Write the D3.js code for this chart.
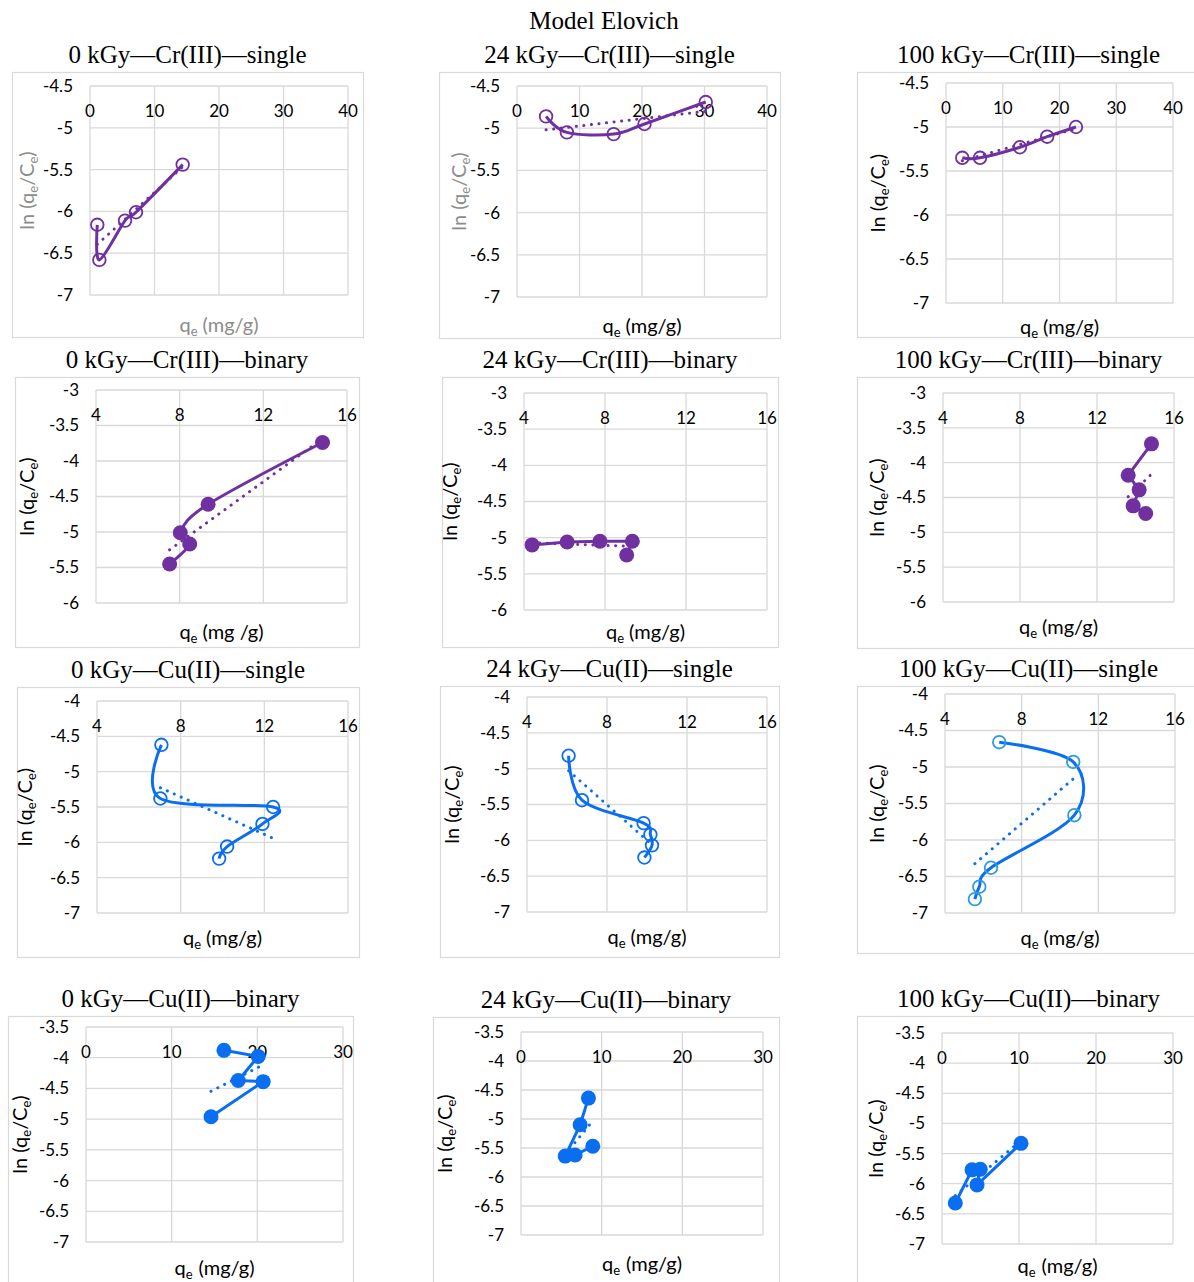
<!DOCTYPE html>
<html>
<head>
<meta charset="utf-8">
<script src="https://cdn.jsdelivr.net/npm/d3@7"></script>
<style>
body{margin:0;background:#fff;}
svg text{font-family:Lato,"Open Sans",sans-serif;}
.ttl{font-family:"Liberation Serif",serif !important;}
</style>
</head>
<body>
<div id="chart"></div>
<script>

let width=1194;
let height=1282;

const purple="#7030A0";
const blue="#0A6EF0";
const blueLight="#2E9BE0";

const titles=["0 kGy\u2014Cr(III)\u2014single","24 kGy\u2014Cr(III)\u2014single","100 kGy\u2014Cr(III)\u2014single",
"0 kGy\u2014Cr(III)\u2014binary","24 kGy\u2014Cr(III)\u2014binary","100 kGy\u2014Cr(III)\u2014binary",
"0 kGy\u2014Cu(II)\u2014single","24 kGy\u2014Cu(II)\u2014single","100 kGy\u2014Cu(II)\u2014single",
"0 kGy\u2014Cu(II)\u2014binary","24 kGy\u2014Cu(II)\u2014binary","100 kGy\u2014Cu(II)\u2014binary"];

// tick labels
const xTicks40=[0,10,20,30,40];
const xTicks16=[4,8,12,16];
const xTicks30=[0,10,20,30];
const yTicks45=[-4.5,-5,-5.5,-6,-6.5,-7];
const yTicks3=[-3,-3.5,-4,-4.5,-5,-5.5,-6];
const yTicks4=[-4,-4.5,-5,-5.5,-6,-6.5,-7];
const yTicks35=[-3.5,-4,-4.5,-5,-5.5,-6,-6.5,-7];

// Cr(III) single
const qe_0_CrS=[1.13,1.45,5.43,7.13,14.37];
const ln_0_CrS=[-6.16,-6.58,-6.11,-6.01,-5.44];
const qe_24_CrS=[4.65,7.98,15.46,20.4,30.2];
const ln_24_CrS=[-4.86,-5.05,-5.07,-4.95,-4.69];
const qe_100_CrS=[2.87,5.99,13.03,17.83,22.9];
const ln_100_CrS=[-5.35,-5.35,-5.23,-5.11,-5.0];
// Cr(III) binary
const qe_0_CrB=[14.83,9.36,8.03,8.48,7.52];
const ln_0_CrB=[-3.74,-4.61,-5.01,-5.17,-5.45];
const qe_24_CrB=[4.4,6.13,7.75,9.35,9.07];
const ln_24_CrB=[-5.10,-5.06,-5.05,-5.05,-5.24];
const qe_100_CrB=[14.83,13.62,14.19,13.88,14.53];
const ln_100_CrB=[-3.73,-4.18,-4.39,-4.62,-4.73];
// Cu(II) single
const qe_0_CuS=[7.08,7.03,12.42,11.91,10.22,9.84];
const ln_0_CuS=[-4.62,-5.38,-5.50,-5.74,-6.06,-6.23];
const qe_24_CuS=[6.08,6.75,9.83,10.17,10.25,9.87];
const ln_24_CuS=[-4.82,-5.44,-5.76,-5.92,-6.07,-6.24];
const qe_100_CuS=[6.83,10.69,10.75,6.4,5.79,5.56];
const ln_100_CuS=[-4.66,-4.93,-5.66,-6.38,-6.64,-6.81];
// Cu(II) binary
const qe_0_CuB=[16.1,20.1,17.77,20.68,14.59];
const ln_0_CuB=[-3.88,-3.98,-4.37,-4.39,-4.96];
const qe_24_CuB=[8.36,7.33,5.48,6.71,8.9];
const ln_24_CuB=[-4.64,-5.10,-5.64,-5.62,-5.47];
const qe_100_CuB=[1.73,3.9,4.97,4.55,10.26];
const ln_100_CuB=[-6.32,-5.77,-5.76,-6.02,-5.33];

// frame and plot boxes [x0,y0,x1,y1], yo = y title offset, xo = x title offset
let panels=[
 {x:qe_0_CrS,y:ln_0_CrS,xt:xTicks40,yt:yTicks45,c:purple,mc:purple,open:true,smooth:true,frame:[12,72,363,337],plot:[90,86,348,295],gy:true,gx:true,yo:-63,xo:37},
 {x:qe_24_CrS,y:ln_24_CrS,xt:xTicks40,yt:yTicks45,c:purple,mc:purple,open:true,smooth:true,frame:[439,72,780,338],plot:[517,86,767,297],gy:true,gx:false,yo:-58,xo:36},
 {x:qe_100_CrS,y:ln_100_CrS,xt:xTicks40,yt:yTicks45,c:purple,mc:purple,open:true,smooth:true,frame:[857,72,1200,337],plot:[946,83,1173,303],yo:-68,xo:31},
 {x:qe_0_CrB,y:ln_0_CrB,xt:xTicks16,yt:yTicks3,c:purple,mc:purple,open:false,smooth:true,frame:[15,377,359,647],plot:[96,390,347,603],yo:-69,xo:36,xlab:"(mg /g)"},
 {x:qe_24_CrB,y:ln_24_CrB,xt:xTicks16,yt:yTicks3,c:purple,mc:purple,open:false,smooth:false,frame:[442,377,778,647],plot:[524,393,767,610],yo:-74,xo:29},
 {x:qe_100_CrB,y:ln_100_CrB,xt:xTicks16,yt:yTicks3,c:purple,mc:purple,open:false,smooth:false,frame:[857,377,1200,648],plot:[943,393,1174,602],yo:-66,xo:32},
 {x:qe_0_CuS,y:ln_0_CuS,xt:xTicks16,yt:yTicks4,c:blue,mc:blue,open:true,smooth:true,frame:[17,687,359,957],plot:[97,701,348,913],yo:-72,xo:32},
 {x:qe_24_CuS,y:ln_24_CuS,xt:xTicks16,yt:yTicks4,c:blue,mc:blue,open:true,smooth:true,frame:[440,686,779,957],plot:[527,697,767,912],yo:-75,xo:32},
 {x:qe_100_CuS,y:ln_100_CuS,xt:xTicks16,yt:yTicks4,c:blue,mc:blueLight,open:true,smooth:true,frame:[857,686,1200,953],plot:[945,694,1175,913],yo:-68,xo:32},
 {x:qe_0_CuB,y:ln_0_CuB,xt:xTicks30,yt:yTicks35,c:blue,mc:blue,open:false,smooth:false,frame:[8,1016,353,1300],plot:[86,1027,343,1242],yo:-66,xo:33,gap:6},
 {x:qe_24_CuB,y:ln_24_CuB,xt:xTicks30,yt:yTicks35,c:blue,mc:blue,open:false,smooth:false,frame:[433,1017,779,1300],plot:[521,1032,763,1235],yo:-76,xo:36,gap:6},
 {x:qe_100_CuB,y:ln_100_CuB,xt:xTicks30,yt:yTicks35,c:blue,mc:blue,open:false,smooth:false,frame:[857,1016,1200,1300],plot:[942,1033,1173,1244],yo:-66,xo:29,gap:6}
];

let svg=d3.select("#chart").append("svg").attr("width",width).attr("height",height);

svg.append("text").attr("class","ttl").text("Model Elovich")
 .attr("x",604).attr("y",29).attr("text-anchor","middle").attr("font-size",25).attr("fill","#000");

panels.forEach(function(p,i){
  let g=svg.append("g");
  let f=p.frame, b=p.plot;
  g.append("rect").attr("x",f[0]+0.5).attr("y",f[1]+0.5).attr("width",f[2]-f[0]).attr("height",f[3]-f[1])
   .attr("fill","#fff").attr("stroke","#d9d9d9").attr("stroke-width",1.2);

  let xs=d3.scaleLinear().domain(d3.extent(p.xt)).range([b[0],b[2]]);
  let ys=d3.scaleLinear().domain(d3.extent(p.yt)).range([b[3],b[1]]);

  // title
  let right=Math.min(f[2],1194);
  g.append("text").attr("class","ttl").text(titles[i])
   .attr("x",right>=1194?(f[0]+right)/2+3:(f[0]+f[2])/2).attr("y",f[1]-9)
   .attr("text-anchor","middle").attr("font-size",25).attr("fill","#000");

  // gridlines
  g.selectAll(".gx").data(p.xt).enter().append("line")
   .attr("x1",d=>xs(d)).attr("x2",d=>xs(d)).attr("y1",b[1]).attr("y2",b[3])
   .attr("stroke","#d9d9d9").attr("stroke-width",1.3);
  g.selectAll(".gy").data(p.yt).enter().append("line")
   .attr("x1",b[0]).attr("x2",b[2]).attr("y1",d=>ys(d)).attr("y2",d=>ys(d))
   .attr("stroke","#d9d9d9").attr("stroke-width",1.3);

  // y tick labels
  g.selectAll(".ly").data(p.yt).enter().append("text")
   .text(d=>String(d)).attr("x",b[0]-17).attr("y",d=>ys(d)).attr("dy","0.35em")
   .attr("text-anchor","end").attr("font-size",17).attr("fill","#000");
  // x tick labels (axis sits at the top edge)
  g.selectAll(".lx").data(p.xt).enter().append("text")
   .text(d=>String(d)).attr("x",d=>xs(d)).attr("y",b[1]+25).attr("dy","0.35em")
   .attr("text-anchor","middle").attr("font-size",17).attr("fill","#000");

  // axis titles
  let yt=g.append("text").attr("transform","translate("+(b[0]+p.yo+7)+","+((b[1]+b[3])/2)+") rotate(-90)")
   .attr("text-anchor","middle").attr("font-size",20).attr("fill",p.gy?"#8c8c8c":"#000");
  yt.append("tspan").text("ln (q");
  yt.append("tspan").text("e").attr("font-size",13).attr("dy",4);
  yt.append("tspan").text("/C").attr("dy",-4);
  yt.append("tspan").text("e").attr("font-size",13).attr("dy",4);
  yt.append("tspan").text(")").attr("dy",-4);

  let xt=g.append("text").attr("x",(b[0]+b[2])/2).attr("y",b[3]+p.xo)
   .attr("text-anchor","middle").attr("font-size",20).attr("fill",p.gx?"#8c8c8c":"#000");
  xt.append("tspan").text("q");
  xt.append("tspan").text("e").attr("font-size",13).attr("dy",4);
  xt.append("tspan").text(p.xlab||"(mg/g)").attr("dy",-4).attr("dx",p.gap||5);

  let pts=p.x.map((v,k)=>[v,p.y[k]]);

  // series line
  let line=d3.line().x(d=>xs(d[0])).y(d=>ys(d[1]))
   .curve(p.smooth?d3.curveCatmullRom.alpha(0):d3.curveLinear);
  g.append("path").datum(pts).attr("d",line).attr("fill","none")
   .attr("stroke",p.c).attr("stroke-width",3).attr("stroke-linejoin","round");

  // linear trendline
  let mx=d3.mean(p.x), my=d3.mean(p.y);
  let sxy=d3.sum(pts,d=>(d[0]-mx)*(d[1]-my)), sxx=d3.sum(p.x,d=>(d-mx)*(d-mx));
  let slope=sxy/sxx, icpt=my-slope*mx;
  let ex=d3.extent(p.x);
  g.append("path").datum(ex.map(v=>[v,icpt+slope*v])).attr("d",d3.line().x(d=>xs(d[0])).y(d=>ys(d[1])))
   .attr("stroke",p.c).attr("stroke-width",3).attr("stroke-linecap","round")
   .attr("stroke-dasharray","0.1 7.5").attr("fill","none");

  // markers
  g.selectAll(".m").data(pts).enter().append("circle")
   .attr("cx",d=>xs(d[0])).attr("cy",d=>ys(d[1]))
   .attr("r",p.open?6.3:7.5)
   .attr("fill",p.open?"none":p.mc)
   .attr("stroke",p.mc).attr("stroke-width",p.open?1.8:0);
});

</script>
</body>
</html>
